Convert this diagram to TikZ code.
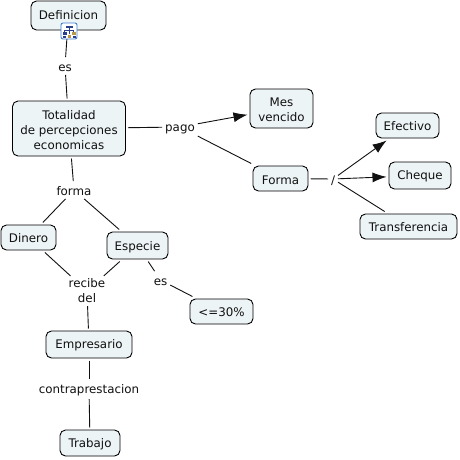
\documentclass[tikz,border=0pt]{standalone}
\usepackage{fontspec}
\setmainfont{DejaVu Sans}
\definecolor{boxfill}{HTML}{EDF4F6}
\definecolor{ln}{HTML}{111111}
\definecolor{iconblue}{HTML}{3F7FD0}
\definecolor{icondark}{HTML}{2B3F8F}
\definecolor{icongold}{HTML}{B89A4A}
\usetikzlibrary{arrows.meta}
\def\thgt{10.6pt}
\tikzset{
  th/.code={\def\thgt{#1}},
  concept/.style={draw=black,fill=boxfill,rounded corners=5.5pt,line width=0.9pt,align=center,inner sep=0pt,outer sep=2.5pt,font=\fontsize{11.85}{15}\selectfont,text=ln,execute at begin node={\rule{0pt}{\thgt}}},
  link/.style={align=center,inner sep=1pt,outer sep=2pt,font=\fontsize{11.85}{15}\selectfont,text=ln,execute at begin node={\rule{0pt}{11.6pt}}},
  conn/.style={draw=ln,line width=0.9pt},
  arr/.style={conn,-{Latex[length=14pt,width=10pt]}},
}
\begin{document}
\begin{tikzpicture}[x=1pt,y=-1pt]
\useasboundingbox (0,0) rectangle (460,459);
\fill[white] (0,0) rectangle (460,459);
% concepts
\node[concept,th=8pt,minimum width=75pt,minimum height=29pt] (def) at (68.5,15.5) {Definicion};
\node[concept,minimum width=113pt,minimum height=55pt] (tot) at (69,128.5) {\rule{0pt}{13pt}Totalidad\\de percepciones\\economicas};
\node[concept,minimum width=63pt,minimum height=39pt] (mes) at (281.5,108.5) {\rule{0pt}{11pt}Mes\\vencido};
\node[concept,minimum width=63pt,minimum height=25pt] (efe) at (407.5,125.5) {Efectivo};
\node[concept,minimum width=62pt,minimum height=27pt] (che) at (420,175.5) {Cheque};
\node[concept,th=11.6pt,minimum width=55pt,minimum height=25pt] (for) at (280.5,178.5) {Forma};
\node[concept,minimum width=97pt,minimum height=25pt] (tra) at (408.5,226.5) {Transferencia};
\node[concept,minimum width=55pt,minimum height=25pt] (din) at (28.5,237.5) {Dinero};
\node[concept,th=11.6pt,minimum width=61pt,minimum height=27pt] (esp) at (137.5,245.5) {Especie};
\node[concept,minimum width=63pt,minimum height=25pt] (p30) at (221.5,311.5) {<=30\%};
\node[concept,minimum width=86pt,minimum height=27pt] (emp) at (89,344.5) {Empresario};
\node[concept,th=11.6pt,minimum width=60pt,minimum height=26pt] (trb) at (90,443) {Trabajo};
% linking phrases
\node[link] (les) at (65,66) {es};
\node[link] (lpago) at (180,127) {pago};
\node[link] (lforma) at (74,190) {forma};
\node[link] (lslash) at (333,179) {/};
\node[link] (lrec) at (87,291) {recibe\\del};
\node[link] (les2) at (160.5,280) {es};
\node[link] (lcon) at (89,389) {contraprestacion};
% connectors
\draw[conn] (def) -- (les);
\draw[conn] (les) -- (tot);
\draw[conn] (tot) -- (lpago);
\draw[arr] (lpago) -- (mes);
\draw[conn] (lpago) -- (for);
\draw[conn] (for) -- (lslash);
\draw[arr] (lslash) -- (efe);
\draw[arr] (lslash) -- (che);
\draw[conn] (lslash) -- (tra);
\draw[conn] (tot) -- (lforma);
\draw[conn] (lforma) -- (din);
\draw[conn] (lforma) -- (esp);
\draw[conn] (din) -- (lrec);
\draw[conn] (esp) -- (lrec);
\draw[conn] (lrec) -- (emp);
\draw[conn] (esp) -- (les2);
\draw[conn] (les2) -- (p30);
\draw[conn] (emp) -- (lcon);
\draw[conn] (lcon) -- (trb);
% icon
\node[draw=iconblue,fill=white,rounded corners=2pt,line width=0.9pt,minimum size=16pt,inner sep=0pt] (icon) at (69,31) {};
\fill[icondark] (65.5,25.5) rectangle (72.5,28);
\draw[icondark,line width=0.6pt] (69,28) -- (69,34) (64.5,30) -- (73.5,30) (64.5,30) -- (64.5,32) (73.5,30) -- (73.5,32);
\fill[icondark] (62.5,32) rectangle (66.5,35);
\fill[icongold] (71.5,32) rectangle (75.5,35);
\fill[icondark] (62.5,35.5) rectangle (65.5,37.5);
\fill[icongold] (67.5,34.5) rectangle (70.5,37.5);
\fill[icondark] (72.5,35.5) rectangle (75.5,37.5);
\end{tikzpicture}
\end{document}
